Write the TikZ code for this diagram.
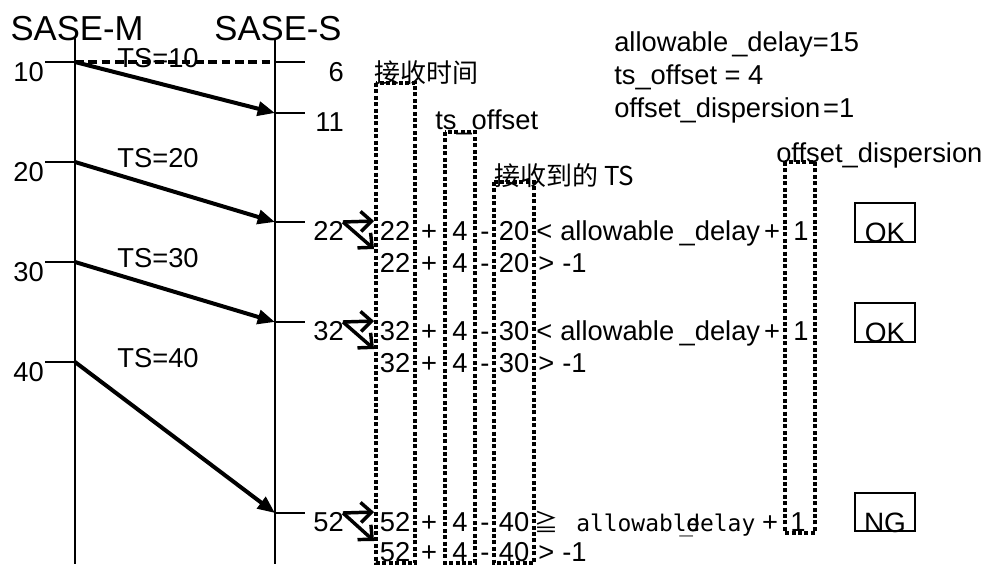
\documentclass[tikz,border=0pt]{standalone}
\usepackage{fontspec}
\setmainfont{Liberation Sans}
\newfontfamily\cjkfont{Noto Sans CJK SC}
\newfontfamily\jpfont{Noto Sans CJK JP}
\newfontfamily\monofont{DejaVu Sans Mono}
\usetikzlibrary{arrows.meta}

% one row of the check: received time + ts_offset - received TS
\newcommand\eqrow[4]{%
  \node[txt,anchor=base] (#1r) at (395,#2) {#3};
  \node[txt,anchor=base] (#1p) at (429,#2) {+};
  \node[txt,anchor=base] (#1o) at (460,#2) {4};
  \node[txt,anchor=base] (#1m) at (485,#2) {-};
  \node[txt,anchor=base] (#1t) at (514,#2) {#4};
}

\begin{document}
\begin{tikzpicture}[x=0.75pt,y=-0.75pt,
  txt/.style={inner sep=0pt, font=\fontsize{20.5pt}{24pt}\selectfont},
  head/.style={inner sep=0pt, font=\fontsize{26pt}{30pt}\selectfont},
  cjk/.style={inner sep=0pt, font=\cjkfont\fontsize{19.5pt}{23pt}\selectfont},
  monotxt/.style={inner sep=0pt, font=\monofont\fontsize{17.2pt}{20pt}\selectfont},
  lifeline/.style={line width=1.6pt},
  tick/.style={line width=1pt},
  msg/.style={line width=3pt, -{Triangle[length=13pt,width=10.5pt]}},
  fwd/.style={line width=2.6pt, -{Straight Barb[length=8pt,width=15pt]}},
  colbox/.style={line width=2.4pt, dash pattern=on 3pt off 1.8pt},
  verdict/.style={draw, line width=1.5pt, minimum width=45pt, minimum height=29pt, inner sep=0pt},
  vtxt/.style={inner sep=0pt, font=\fontsize{21pt}{24pt}\selectfont},
]
\useasboundingbox (0,0) rectangle (988,564);

% ---- lifelines ----
\node[head,anchor=base] (hm) at (77,40) {SASE-M};
\node[head,anchor=base] (hs) at (278,40) {SASE-S};
\coordinate (mtop) at (75,38);  \coordinate (mbot) at (75,564);
\coordinate (stop) at (275,38); \coordinate (sbot) at (275,564);
\draw[lifeline] (mtop) -- (mbot);
\draw[lifeline] (stop) -- (sbot);

% ---- send instants on SASE-M ----
\foreach \y in {62,162,262,362} \draw[tick] (45,\y) -- (75,\y);
\node[txt,anchor=base east] (t10) at (44,81)  {10};
\node[txt,anchor=base east] (t20) at (44,181) {20};
\node[txt,anchor=base east] (t30) at (44,281) {30};
\node[txt,anchor=base east] (t40) at (44,381) {40};
\coordinate (m10) at (75,62);
\coordinate (m20) at (75,162);
\coordinate (m30) at (75,262);
\coordinate (m40) at (75,362);

% ---- receive instants on SASE-S ----
\foreach \y in {62,113,222,322,513} \draw[tick] (275,\y) -- (305,\y);
\node[txt,anchor=base east] (r6)  at (344,81)  {6};
\node[txt,anchor=base east] (r11) at (344,131) {11};
\node[txt,anchor=base east] (r22) at (344,240) {22};
\node[txt,anchor=base east] (r32) at (344,340) {32};
\node[txt,anchor=base east] (r52) at (344,531) {52};
\coordinate (s6)  at (275,62);
\coordinate (s11) at (275,113);
\coordinate (s22) at (275,222);
\coordinate (s32) at (275,322);
\coordinate (s52) at (275,513);

% ---- messages ----
\draw[line width=2.6pt, dash pattern=on 6.5pt off 3.5pt] (m10) -- (s6);
\draw[msg] (m10) -- (s11);
\draw[msg] (m20) -- (s22);
\draw[msg] (m30) -- (s32);
\draw[msg] (m40) -- (s52);
\node[txt,anchor=base] (ts10) at (158,67)  {TS=10};
\node[txt,anchor=base] (ts20) at (158,167) {TS=20};
\node[txt,anchor=base] (ts30) at (158,267) {TS=30};
\node[txt,anchor=base] (ts40) at (158,367) {TS=40};

% ---- parameters ----
\node[txt,anchor=base west] (pad) at (614,51)  {allowable\kern0.15em\_delay=15};
\node[txt,anchor=base west] (pto) at (614,84)  {ts\_offset = 4};
\node[txt,anchor=base west] (pod) at (614,117) {offset\_dispersion\kern0.1em=1};

% ---- columns ----
\draw[colbox] (376,83) rectangle (415,563);
\draw[colbox] (445,132) rectangle (475,563);
\draw[colbox] (494,182) rectangle (534,563);
\draw[colbox] (785,162) rectangle (815,533);
\node[cjk,anchor=base west] (hrx)  at (374,82)  {接收时间};
\node[txt,anchor=base west] (hoff) at (435,129) {ts\_offset};
\node[cjk,anchor=base west] (hts)  at (494,185) {接收到的 TS};
\node[txt,anchor=base west] (hdis) at (776,162) {offset\_dispersion};

% ---- checks for TS=20 ----
\coordinate (f22) at (343,222);
\coordinate (f22a) at (374,221);
\coordinate (f22b) at (374,249);
\draw[fwd] (f22) -- (f22a);
\draw[fwd] (f22) -- (f22b);
\eqrow{a}{240}{22}{20}
\node[txt,anchor=base west] (alt) at (536,240) {<};
\node[txt,anchor=base west] (ad)  at (560,240) {allowable\kern0.2em\_delay};
\node[txt,anchor=base] (aplus) at (772,240) {+};
\node[txt,anchor=base] (aone)  at (801,240) {1};
\eqrow{b}{272}{22}{20}
\node[txt,anchor=base west] (bgt) at (538,272) {>};
\node[txt,anchor=base west] (bmn) at (562,272) {-1};

% ---- checks for TS=30 ----
\coordinate (f32) at (343,322);
\coordinate (f32a) at (374,321);
\coordinate (f32b) at (374,349);
\draw[fwd] (f32) -- (f32a);
\draw[fwd] (f32) -- (f32b);
\eqrow{c}{340}{32}{30}
\node[txt,anchor=base west] (clt) at (536,340) {<};
\node[txt,anchor=base west] (cd)  at (560,340) {allowable\kern0.2em\_delay};
\node[txt,anchor=base] (cplus) at (772,340) {+};
\node[txt,anchor=base] (cone)  at (801,340) {1};
\eqrow{d}{372}{32}{30}
\node[txt,anchor=base west] (dgt) at (538,372) {>};
\node[txt,anchor=base west] (dmn) at (562,372) {-1};

% ---- checks for TS=40 ----
\coordinate (f52) at (343,513);
\coordinate (f52a) at (374,512);
\coordinate (f52b) at (374,541);
\draw[fwd] (f52) -- (f52a);
\draw[fwd] (f52) -- (f52b);
\eqrow{e}{531}{52}{40}
\node[inner sep=0pt,anchor=base west,font=\jpfont\fontsize{18pt}{20pt}\selectfont] (ege) at (534,531) {≧};
\node[monotxt,anchor=base west] (ed1) at (576,531) {allowabl};
\node[monotxt,anchor=base west] (ed2) at (679,531) {\_};
\node[monotxt,anchor=base west] (ed3) at (686,531) {e};
\node[monotxt,anchor=base west] (ed4) at (686,531) {delay};
\node[txt,anchor=base] (eplus) at (770,531) {+};
\node[txt,anchor=base] (eone)  at (798,531) {1};
\eqrow{f}{561}{52}{40}
\node[txt,anchor=base west] (fgt) at (538,561) {>};
\node[txt,anchor=base west] (fmn) at (562,561) {-1};

% ---- verdicts ----
\node[verdict] (ok1) at (885,222.5) {};
\node[vtxt,anchor=base] (ok1t) at (ok1.south) {OK};
\node[verdict] (ok2) at (885,322.5) {};
\node[vtxt,anchor=base] (ok2t) at (ok2.south) {OK};
\node[verdict] (ng)  at (885,512) {};
\node[vtxt,anchor=base] (ngt) at (ng.south) {NG};
\end{tikzpicture}
\end{document}
